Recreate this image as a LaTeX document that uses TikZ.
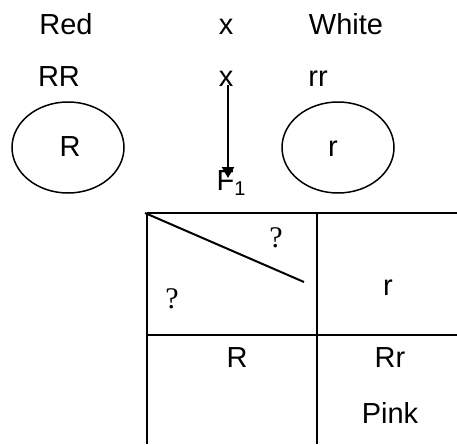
\documentclass[tikz,border=0pt]{standalone}
\usepackage{fontspec}
\setmainfont{Liberation Sans}
\newfontfamily\qfont{Liberation Serif}
\usetikzlibrary{arrows.meta,shapes.geometric}
\begin{document}
\begin{tikzpicture}[x=1pt,y=-1pt,
  lbl/.style={anchor=base,inner sep=0pt,font=\fontsize{29}{34}\selectfont},
  qlbl/.style={anchor=base,inner sep=0pt,font=\qfont\fontsize{30}{34}\selectfont},
  gamete/.style={draw,ellipse,line width=1.5pt,minimum width=112pt,minimum height=91pt,inner sep=0pt},
  grid/.style={line width=2.6pt},
  link/.style={line width=2.2pt,-{Triangle[length=11pt,width=12pt]}}]
\useasboundingbox (0,0) rectangle (457,444);
% top rows
\node[lbl] (red) at (66,35) {Red};
\node[lbl] (x1) at (226,35) {x};
\node[lbl] (white) at (346,35) {White};
\node[lbl] (RR) at (59,86) {RR};
\node[lbl] (x2) at (226,86) {x};
\node[lbl] (rr) at (318,86) {rr};
% gametes
\node[gamete] (gR) at (68,147.5) {};
\node[gamete] (gr) at (338,147.5) {};
\node[lbl] (lR) at (70,156) {R};
\node[lbl] (lr) at (333,156) {r};
% arrow
\coordinate (aS) at (228,85);
\coordinate (aE) at (228,178);
\draw[link] (aS) -- (aE);
\node[lbl] (F1) at (231,190) {F{\fontsize{20}{24}\selectfont\raisebox{-5pt}{1}}};
% table
\coordinate (tl) at (147,213);
\coordinate (tm) at (317,213);
\coordinate (tr) at (457,213);
\coordinate (ml) at (147,335);
\coordinate (mr) at (457,335);
\coordinate (bl) at (147,444);
\coordinate (bm) at (317,444);
\coordinate (d1) at (145,213);
\coordinate (d2) at (304,282);
\draw[grid] (tl) -- (tr);
\draw[grid] (ml) -- (mr);
\draw[grid] (tl) -- (bl);
\draw[grid] (tm) -- (bm);
\draw[line width=2pt] (d1) -- (d2);
\node[qlbl] (q1) at (276,247) {?};
\node[qlbl] (q2) at (172,308) {?};
\node[lbl] (cr) at (388,295) {r};
\node[lbl] (cR) at (237,367) {R};
\node[lbl] (cRr) at (390,367) {Rr};
\node[lbl] (pink) at (390,423) {Pink};
\end{tikzpicture}
\end{document}
